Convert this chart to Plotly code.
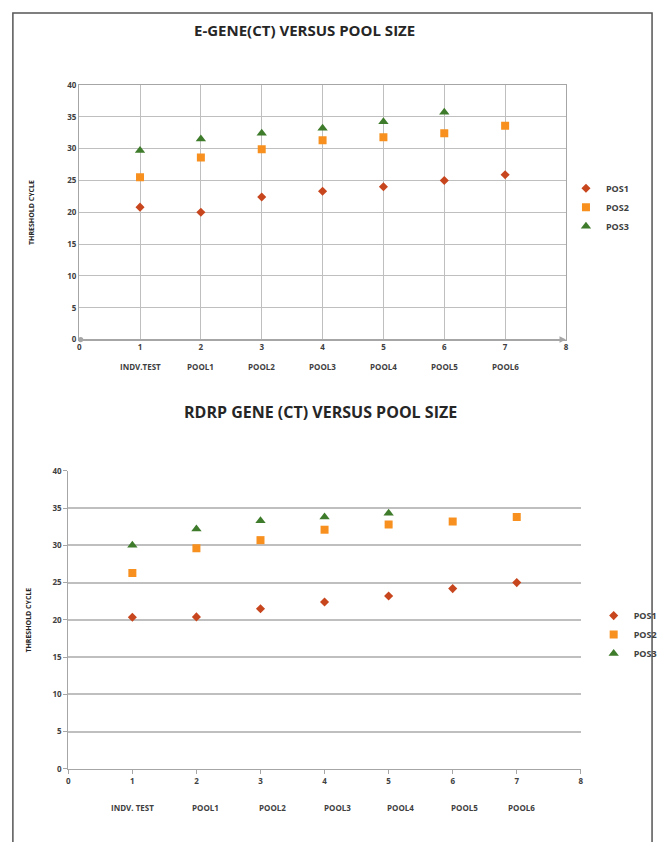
import plotly.graph_objects as go

# ---------------- data ----------------
x_vals = [1, 2, 3, 4, 5, 6, 7]
categories = ["INDV.TEST", "POOL1", "POOL2", "POOL3", "POOL4", "POOL5", "POOL6"]
categories_rdrp = ["INDV. TEST", "POOL1", "POOL2", "POOL3", "POOL4", "POOL5", "POOL6"]

egene_pos1 = [20.8, 20.0, 22.4, 23.3, 24.0, 25.0, 25.9]
egene_pos2 = [25.5, 28.6, 29.9, 31.3, 31.8, 32.4, 33.6]
egene_pos3 = [29.7, 31.5, 32.4, 33.2, 34.2, 35.7]

rdrp_pos1 = [20.35, 20.4, 21.5, 22.4, 23.2, 24.2, 25.0]
rdrp_pos2 = [26.3, 29.6, 30.7, 32.1, 32.8, 33.2, 33.8]
rdrp_pos3 = [30.0, 32.2, 33.3, 33.8, 34.3]

series_names = ["POS1", "POS2", "POS3"]

# ---------------- style ----------------
W, H = 662, 842
C1, C2, C3 = "#C8461E", "#F7901E", "#3E7B2A"
symbols = ["diamond", "square", "triangle-up"]
sizes = [7, 8, 9]
colors = [C1, C2, C3]
FONT = "Open Sans"
TXT = "#404040"
GRID = "#BFBFBF"


def px(x):
    return x / W


def py(y):
    return 1 - y / H


fig = go.Figure()

top_sets = [egene_pos1, egene_pos2, egene_pos3]
bot_sets = [rdrp_pos1, rdrp_pos2, rdrp_pos3]
for i, (name, ys) in enumerate(zip(series_names, top_sets)):
    fig.add_trace(go.Scatter(
        x=x_vals[:len(ys)], y=ys, mode="markers", name=name,
        marker=dict(symbol=symbols[i], size=sizes[i], color=colors[i]),
        xaxis="x", yaxis="y", legend="legend"))
for i, (name, ys) in enumerate(zip(series_names, bot_sets)):
    fig.add_trace(go.Scatter(
        x=x_vals[:len(ys)], y=ys, mode="markers", name=name,
        marker=dict(symbol=symbols[i], size=sizes[i], color=colors[i]),
        xaxis="x2", yaxis="y2", legend="legend2"))

tickfont = dict(family=FONT, size=8, color=TXT, weight="bold")
legfont = dict(family=FONT, size=9, color=TXT, weight="bold")

fig.update_layout(
    width=W, height=H, autosize=False,
    margin=dict(l=0, r=0, t=0, b=0),
    paper_bgcolor="white", plot_bgcolor="white",
    xaxis=dict(domain=[px(78), px(570)], range=[0, 8], dtick=1, tick0=0,
               showgrid=True, gridcolor=GRID, gridwidth=1.3,
               showline=True, linecolor="#A6A6A6", linewidth=1.3, mirror=True,
               zeroline=False, ticks="", tickfont=tickfont, anchor="y"),
    yaxis=dict(domain=[py(338), py(80)], range=[0, 40], dtick=5, tick0=0,
               showgrid=True, gridcolor=GRID, gridwidth=1.3,
               showline=True, linecolor="#A6A6A6", linewidth=1.3, mirror=True,
               zeroline=False, ticks="", tickfont=tickfont, anchor="x"),
    xaxis2=dict(domain=[px(67), px(585)], range=[0, 8], dtick=1, tick0=0,
                showgrid=False, showline=True, linecolor="#A6A6A6", linewidth=1.3,
                zeroline=False, ticks="outside", ticklen=4, tickcolor="#A6A6A6",
                tickfont=tickfont, anchor="y2"),
    yaxis2=dict(domain=[py(773), py(471)], range=[0, 40], dtick=5, tick0=0,
                showgrid=True, gridcolor=GRID, gridwidth=1.5,
                showline=True, linecolor="#A6A6A6", linewidth=1.3,
                zeroline=False, ticks="outside", ticklen=4, tickcolor="#A6A6A6",
                tickfont=tickfont, anchor="x2"),
    legend=dict(x=px(570), y=py(170), xanchor="left", yanchor="top",
                font=legfont, bgcolor="rgba(0,0,0,0)", itemwidth=30, tracegroupgap=0),
    legend2=dict(x=px(598), y=py(603), xanchor="left", yanchor="top",
                 font=legfont, bgcolor="rgba(0,0,0,0)", itemwidth=30, tracegroupgap=0),
    showlegend=True,
)

annos = []
# titles
annos.append(dict(text="E-GENE(CT) VERSUS POOL SIZE", x=px(306), y=py(24),
                  xref="paper", yref="paper", showarrow=False,
                  xanchor="center", yanchor="middle",
                  font=dict(family=FONT, size=15, color="#262626", weight="bold")))
annos.append(dict(text="RDRP GENE (CT) VERSUS POOL SIZE", x=px(322), y=py(411),
                  xref="paper", yref="paper", showarrow=False,
                  xanchor="center", yanchor="middle",
                  font=dict(family=FONT, size=16, color="#262626", weight="bold")))
# y-axis titles
for (xx, yy) in [(30, 209), (27, 622)]:
    annos.append(dict(text="THRESHOLD CYCLE", x=px(xx), y=py(yy), xref="paper", yref="paper",
                      showarrow=False, textangle=-90, xanchor="center", yanchor="middle",
                      font=dict(family=FONT, size=7, color="#262626", weight="bold")))
# category labels
for xv, lab in zip(x_vals, categories):
    annos.append(dict(text=lab, x=xv, y=py(365), xref="x", yref="paper", showarrow=False,
                      xanchor="center", yanchor="middle",
                      font=dict(family=FONT, size=8, color=TXT, weight="bold")))
bottom_shift = [0, 9, 12, 13, 12, 12, 5]
for xv, lab, sh in zip(x_vals, categories_rdrp, bottom_shift):
    annos.append(dict(text=lab, x=xv, y=py(812), xref="x2", yref="paper", showarrow=False,
                      xanchor="center", yanchor="middle",
                      xshift=sh, font=dict(family=FONT, size=8, color=TXT, weight="bold")))
# arrow at end of top x axis
annos.append(dict(x=8, y=0, ax=0, ay=0, xref="x", yref="y", axref="x", ayref="y",
                  text="", showarrow=True, arrowhead=2, arrowsize=1, arrowwidth=1.3,
                  arrowcolor="#A6A6A6", arrowside="end+start", startarrowhead=6,
                  startarrowsize=1))
fig.update_layout(annotations=annos)

# outer frame
fig.add_shape(type="rect", xref="paper", yref="paper",
              x0=px(11), x1=px(657), y0=-0.05, y1=py(7),
              line=dict(color="#555555", width=1.5))

css_js = (
    "var s=document.createElement('style');"
    "s.innerHTML='html,body{margin:0!important;padding:0!important;overflow:hidden;}"
    "body>div{margin:0;padding:0;line-height:0;}';"
    "document.head.appendChild(s);"
)
fig.write_html(
    "out.html",
    config={"responsive": False, "displayModeBar": False},
    default_width="662px", default_height="842px",
    post_script=css_js,
)
